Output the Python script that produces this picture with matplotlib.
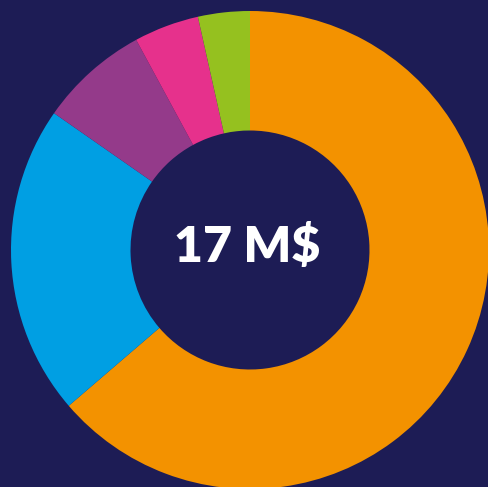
import matplotlib
matplotlib.use("Agg")
import matplotlib.pyplot as plt

labels = ["A", "B", "C", "D", "E"]
values = [63.7, 21.0, 7.4, 4.4, 3.5]
colors = ["#F39200", "#009FE3", "#943A8A", "#E6318C", "#95C11F"]
center_text = "17 M$"

bg = "#1D1C55"
W, H = 489, 487
cx, cy, R = 250, 250, 239

fig = plt.figure(figsize=(W / 100, H / 100), dpi=100, facecolor=bg)
ax = fig.add_axes([0, 0, 1, 1])
ax.set_facecolor(bg)
ax.pie(values, colors=colors, startangle=90, counterclock=False,
       radius=1.0, wedgeprops=dict(width=0.5, linewidth=0))
ax.set_xlim((0 - cx) / R, (W - cx) / R)
ax.set_ylim((cy - H) / R, cy / R)
ax.set_aspect("auto")
ax.axis("off")
ax.text(-0.012, 0.012, center_text, ha="center", va="center", color="white",
        fontsize=36, fontweight="heavy", family=["Lato", "DejaVu Sans"])
fig.savefig("out.png", dpi=100, facecolor=bg)
